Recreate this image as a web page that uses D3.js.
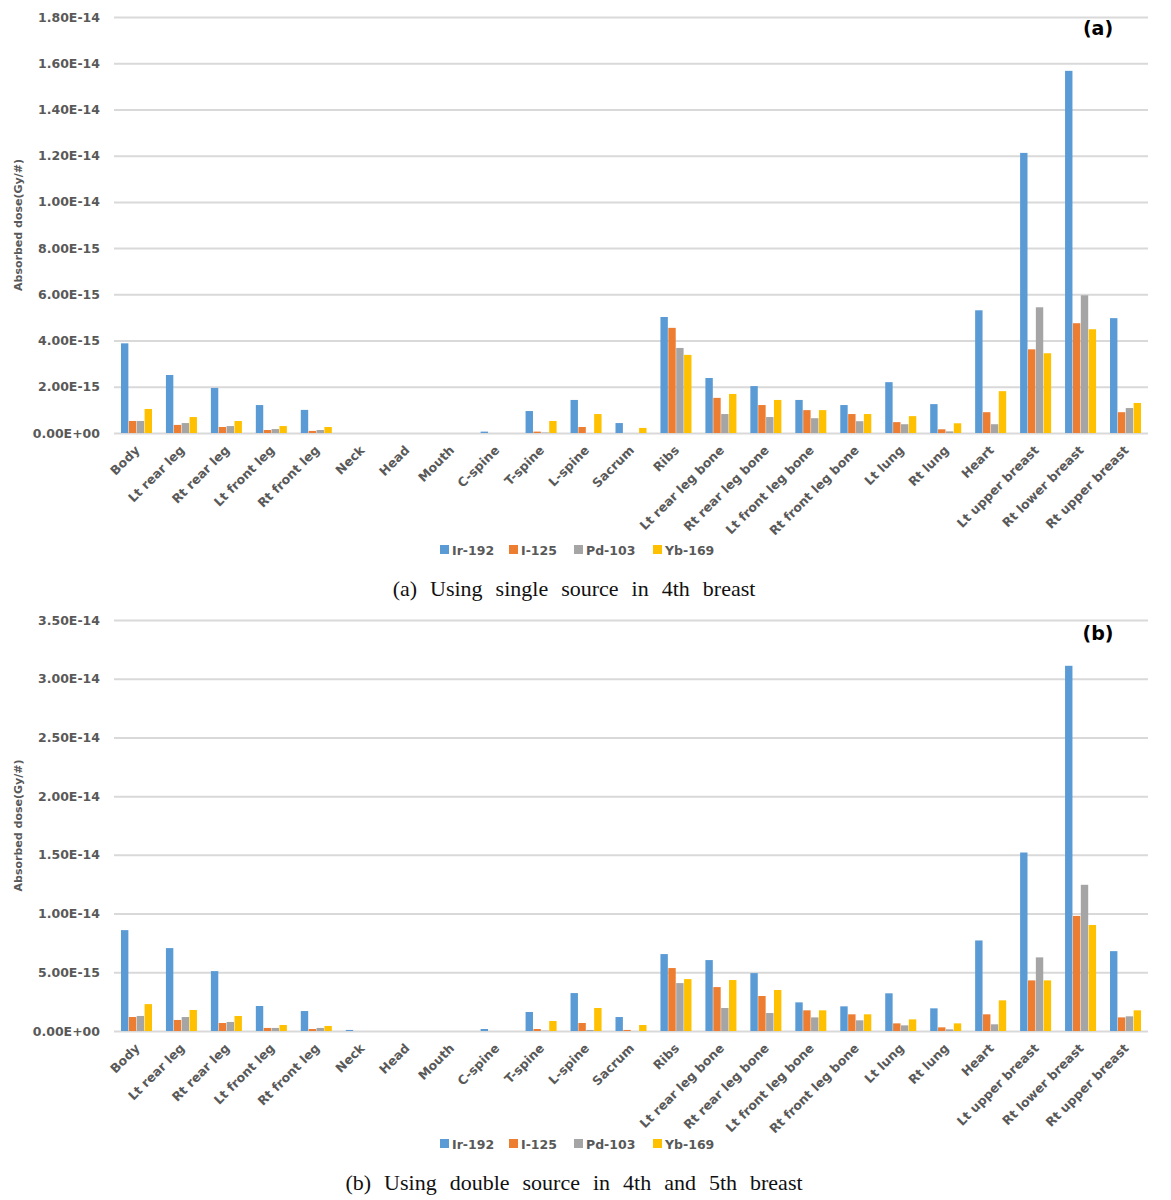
<!DOCTYPE html>
<html>
<head>
<meta charset="utf-8">
<script src="https://cdn.jsdelivr.net/npm/d3@7"></script>
<style>
  html, body { margin: 0; padding: 0; background: #fff; }
  svg { display: block; }
</style>
</head>
<body>
<svg id="chart" width="1171" height="1200"></svg>
<script>
// ---------------- DATA ----------------
const categories = ["Body","Lt rear leg","Rt rear leg","Lt front leg","Rt front leg","Neck","Head","Mouth",
  "C-spine","T-spine","L-spine","Sacrum","Ribs","Lt rear leg bone","Rt rear leg bone","Lt front leg bone",
  "Rt front leg bone","Lt lung","Rt lung","Heart","Lt upper breast","Rt lower breast","Rt upper breast"];
const seriesNames = ["Ir-192","I-125","Pd-103","Yb-169"];
const seriesColors = ["#5b9bd5","#ed7d31","#a5a5a5","#ffc000"];

// (a) single source in 4th breast (Gy/#)
const singleIr192 = [3.88e-15,2.51e-15,1.95e-15,1.21e-15,1.00e-15,0,0,0,0.06e-15,0.95e-15,1.43e-15,0.43e-15,5.02e-15,2.38e-15,2.03e-15,1.43e-15,1.21e-15,2.20e-15,1.25e-15,5.31e-15,12.12e-15,15.67e-15,4.97e-15];
const singleI125  = [0.52e-15,0.35e-15,0.26e-15,0.13e-15,0.09e-15,0,0,0,0,0.06e-15,0.26e-15,0,4.55e-15,1.52e-15,1.21e-15,0.99e-15,0.82e-15,0.47e-15,0.16e-15,0.90e-15,3.62e-15,4.75e-15,0.90e-15];
const singlePd103 = [0.52e-15,0.43e-15,0.30e-15,0.17e-15,0.13e-15,0,0,0,0,0.02e-15,0,0,3.68e-15,0.82e-15,0.69e-15,0.64e-15,0.51e-15,0.38e-15,0.07e-15,0.38e-15,5.44e-15,5.96e-15,1.08e-15];
const singleYb169 = [1.04e-15,0.69e-15,0.52e-15,0.30e-15,0.26e-15,0,0,0,0,0.52e-15,0.82e-15,0.22e-15,3.38e-15,1.69e-15,1.43e-15,0.99e-15,0.82e-15,0.73e-15,0.42e-15,1.81e-15,3.45e-15,4.49e-15,1.30e-15];

// (b) double source in 4th and 5th breast (Gy/#)
const doubleIr192 = [8.59e-15,7.06e-15,5.10e-15,2.13e-15,1.70e-15,0.09e-15,0,0,0.17e-15,1.62e-15,3.23e-15,1.19e-15,6.55e-15,6.04e-15,4.93e-15,2.44e-15,2.10e-15,3.21e-15,1.93e-15,7.71e-15,15.20e-15,31.10e-15,6.80e-15];
const doubleI125  = [1.19e-15,0.94e-15,0.68e-15,0.26e-15,0.17e-15,0,0,0,0,0.17e-15,0.68e-15,0.09e-15,5.36e-15,3.74e-15,2.98e-15,1.76e-15,1.42e-15,0.65e-15,0.31e-15,1.42e-15,4.31e-15,9.80e-15,1.16e-15];
const doublePd103 = [1.28e-15,1.19e-15,0.77e-15,0.26e-15,0.26e-15,0,0,0,0,0.03e-15,0.09e-15,0,4.08e-15,1.96e-15,1.53e-15,1.16e-15,0.91e-15,0.48e-15,0.14e-15,0.57e-15,6.27e-15,12.45e-15,1.25e-15];
const doubleYb169 = [2.29e-15,1.79e-15,1.28e-15,0.51e-15,0.43e-15,0,0,0,0,0.85e-15,1.96e-15,0.51e-15,4.42e-15,4.34e-15,3.49e-15,1.76e-15,1.42e-15,0.99e-15,0.65e-15,2.61e-15,4.31e-15,9.03e-15,1.76e-15];

const singleTicks = [0,2e-15,4e-15,6e-15,8e-15,1e-14,1.2e-14,1.4e-14,1.6e-14,1.8e-14];
const doubleTicks = [0,5e-15,1e-14,1.5e-14,2e-14,2.5e-14,3e-14,3.5e-14];

const yTitle = "Absorbed dose(Gy/#)";
const captionA = "(a)  Using  single  source  in  4th  breast";
const captionB = "(b)  Using  double  source  in  4th  and  5th  breast";

// ---------------- DRAW ----------------
const svg = d3.select("#chart");
const labelFont = "'DejaVu Sans', Verdana, sans-serif";
const labelColor = "#595959";

function fmtExp(d) {
  const s = d.toExponential(2);
  let [m, e] = s.split("e");
  const sign = e[0] === "-" ? "-" : "+";
  const digits = e.replace(/[+-]/, "").padStart(2, "0");
  return m + "E" + sign + digits;
}

function drawPanel(opts) {
  const { top, bottom, left, right, ticks, series, tag, tagY, legendY, caption, captionY } = opts;
  const g = svg.append("g");

  const x0 = d3.scaleBand().domain(categories).range([left, right]).paddingInner(0.31).paddingOuter(0.155);
  const x1 = d3.scaleBand().domain(seriesNames).range([0, x0.bandwidth()]).paddingInner(0.06);
  const y = d3.scaleLinear().domain([0, ticks[ticks.length - 1]]).range([bottom, top]);

  // y axis with gridlines
  const yAxis = d3.axisLeft(y).tickValues(ticks).tickFormat(fmtExp).tickSize(-(right - left)).tickPadding(14);
  const ya = g.append("g").attr("transform", `translate(${left},0)`).call(yAxis);
  ya.select(".domain").remove();
  ya.selectAll(".tick line").attr("stroke", "#d9d9d9").attr("stroke-width", 2);
  ya.selectAll(".tick text")
    .attr("fill", labelColor).attr("font-family", labelFont).attr("font-weight", "bold")
    .attr("font-size", 12.5);

  // bars
  const groups = g.append("g").selectAll("g").data(categories).join("g")
    .attr("transform", d => `translate(${x0(d)},0)`);
  groups.selectAll("rect")
    .data((c, i) => seriesNames.map((s, k) => ({ s, k, v: series[k][i] })))
    .join("rect")
    .attr("x", d => x1(d.s))
    .attr("width", x1.bandwidth())
    .attr("y", d => y(d.v))
    .attr("height", d => bottom - y(d.v))
    .attr("fill", d => seriesColors[d.k]);

  // x axis labels
  const xAxis = d3.axisBottom(x0).tickSize(0).tickPadding(0);
  const xa = g.append("g").attr("transform", `translate(0,${bottom})`).call(xAxis);
  xa.select(".domain").remove();
  xa.selectAll(".tick text")
    .attr("fill", labelColor).attr("font-family", labelFont).attr("font-weight", "bold")
    .attr("font-size", 12.5)
    .attr("text-anchor", "end")
    .attr("dy", null)
    .attr("y", 0)
    .attr("transform", "translate(4,18) rotate(-45)");

  // y title
  g.append("text")
    .attr("transform", `translate(22,${(top + bottom) / 2}) rotate(-90)`)
    .attr("text-anchor", "middle")
    .attr("fill", labelColor).attr("font-family", labelFont).attr("font-weight", "bold")
    .attr("font-size", 11)
    .text(yTitle);

  // tag
  g.append("text")
    .attr("x", 1098).attr("y", tagY)
    .attr("text-anchor", "middle")
    .attr("font-family", labelFont).attr("font-weight", "bold").attr("font-size", 19)
    .attr("fill", "#000")
    .text(tag);

  // legend
  const legendX = [440, 509, 574, 653];
  const lg = g.append("g");
  seriesNames.forEach((s, k) => {
    lg.append("rect").attr("x", legendX[k]).attr("y", legendY - 5).attr("width", 9).attr("height", 9)
      .attr("fill", seriesColors[k]);
    lg.append("text").attr("x", legendX[k] + 12).attr("y", legendY + 4.5)
      .attr("fill", labelColor).attr("font-family", labelFont).attr("font-weight", "bold")
      .attr("font-size", 12.5).text(s);
  });

  // caption
  g.append("text")
    .attr("x", 574).attr("y", captionY)
    .attr("text-anchor", "middle")
    .attr("font-family", "'Liberation Serif', 'Times New Roman', serif")
    .attr("font-size", 22)
    .attr("word-spacing", 1)
    .attr("fill", "#111")
    .style("white-space", "pre")
    .text(caption);
}

drawPanel({
  top: 17, bottom: 433, left: 114, right: 1148,
  ticks: singleTicks,
  series: [singleIr192, singleI125, singlePd103, singleYb169],
  tag: "(a)", tagY: 35, legendY: 550,
  caption: captionA, captionY: 596
});

drawPanel({
  top: 620, bottom: 1031, left: 114, right: 1148,
  ticks: doubleTicks,
  series: [doubleIr192, doubleI125, doublePd103, doubleYb169],
  tag: "(b)", tagY: 640, legendY: 1144,
  caption: captionB, captionY: 1190
});
</script>
</body>
</html>
